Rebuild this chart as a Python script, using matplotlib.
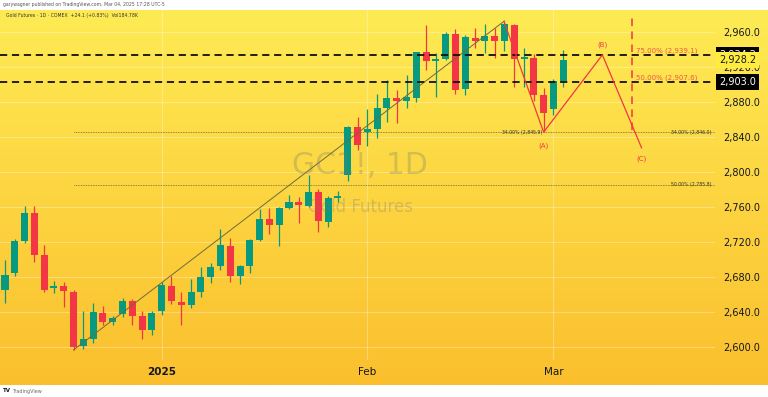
"""
GC1! daily candles with a hand-drawn ABC projection, TradingView style.
"""
import matplotlib.pyplot as plt
import matplotlib.transforms as mtransforms
import numpy as np
import pandas as pd

# 1. Data (Dec 9 2024 .. Mar 4 2025)
dates = pd.to_datetime([
    "2024-12-09", "2024-12-10", "2024-12-11", "2024-12-12", "2024-12-13",
    "2024-12-16", "2024-12-17", "2024-12-18", "2024-12-19", "2024-12-20",
    "2024-12-23", "2024-12-24", "2024-12-26", "2024-12-27", "2024-12-30",
    "2024-12-31",
    "2025-01-02", "2025-01-03", "2025-01-06", "2025-01-07", "2025-01-08",
    "2025-01-09", "2025-01-10", "2025-01-13", "2025-01-14", "2025-01-15",
    "2025-01-16", "2025-01-17", "2025-01-21", "2025-01-22", "2025-01-23",
    "2025-01-24", "2025-01-27", "2025-01-28", "2025-01-29", "2025-01-30",
    "2025-01-31",
    "2025-02-03", "2025-02-04", "2025-02-05", "2025-02-06", "2025-02-07",
    "2025-02-10", "2025-02-11", "2025-02-12", "2025-02-13", "2025-02-14",
    "2025-02-18", "2025-02-19", "2025-02-20", "2025-02-21", "2025-02-24",
    "2025-02-25", "2025-02-26", "2025-02-27", "2025-02-28",
    "2025-03-03", "2025-03-04",
])
opens = [2665, 2685, 2721, 2753, 2705, 2668, 2670, 2663, 2601, 2610,
         2639, 2629, 2638, 2653, 2636, 2620, 2641, 2670, 2652, 2648,
         2663, 2680, 2693, 2716, 2682, 2693, 2723, 2747, 2740, 2759,
         2766, 2762, 2778, 2743, 2771, 2797, 2852, 2846, 2850, 2874,
         2885, 2881, 2885, 2937, 2927, 2929, 2958, 2895, 2954, 2950,
         2956, 2950, 2968, 2929, 2931, 2888, 2872, 2904]
highs = [2700, 2724, 2761, 2762, 2717, 2676, 2675, 2666, 2641, 2651,
         2647, 2636, 2656, 2655, 2641, 2641, 2675, 2681, 2663, 2678,
         2692, 2696, 2735, 2725, 2694, 2724, 2758, 2759, 2760, 2774,
         2772, 2797, 2781, 2773, 2779, 2853, 2863, 2872, 2890, 2905,
         2894, 2911, 2938, 2968, 2936, 2960, 2964, 2957, 2965, 2970,
         2965, 2973, 2970, 2942, 2935, 2896, 2907, 2940]
lows = [2651, 2681, 2719, 2697, 2663, 2662, 2646, 2597, 2598, 2605,
        2625, 2625, 2635, 2625, 2609, 2614, 2637, 2650, 2625, 2645,
        2658, 2674, 2688, 2675, 2672, 2685, 2721, 2730, 2716, 2758,
        2742, 2760, 2732, 2738, 2766, 2790, 2825, 2830, 2839, 2858,
        2856, 2873, 2880, 2917, 2886, 2928, 2890, 2888, 2942, 2936,
        2931, 2939, 2898, 2898, 2881, 2846, 2866, 2898]
closes = [2683, 2721, 2754, 2705, 2666, 2670, 2664, 2600, 2610, 2640,
          2629, 2633, 2653, 2636, 2620, 2639, 2671, 2653, 2648, 2663,
          2680, 2692, 2717, 2682, 2693, 2723, 2747, 2740, 2759, 2766,
          2763, 2778, 2744, 2771, 2773, 2852, 2831, 2850, 2874, 2885,
          2881, 2886, 2937, 2927, 2930, 2958, 2894, 2955, 2950, 2956,
          2950, 2970, 2929, 2932, 2888, 2868, 2904, 2928.2]

# drawings: trend line, fib levels, ABC wave (bar index, price)
trend_x = [7, 51]
trend_y = [2597, 2973]
fib_levels = [2846.0, 2785.8]
fib_labels = ["34.00% (2,846.0)", "50.00% (2,785.8)"]
wave_x = [51, 55, 61, 65]
wave_y = [2971, 2845.9, 2934.2, 2828]
wave_names = ["(A)", "(B)", "(C)"]
ext_levels = [2939.1, 2907.6]
ext_labels = ["75.00% (2,939.1)", "50.00% (2,907.6)"]
hlines = [2934.2, 2903.0]
last_price = 2928.2
yticks = np.arange(2600, 2961, 40)

UP, DOWN = "#089981", "#f23645"

# 2. Figure + yellow gradient background
fig = plt.figure(figsize=(7.68, 3.97), dpi=100)
bg = fig.add_axes([0, 12 / 397, 1, 375 / 397])
grad = np.linspace(0, 1, 256).reshape(-1, 1)
top = np.array([254, 235, 84]) / 255
bot = np.array([251, 191, 45]) / 255
img = top + (bot - top) * grad[..., None]
bg.imshow(np.repeat(img, 2, axis=1), aspect="auto", extent=[0, 1, 0, 1])
bg.axis("off")

ax = fig.add_axes([0, 1 - 360 / 397, 715 / 768, 350 / 397])
ax.set_facecolor("none")
for s in ax.spines.values():
    s.set_visible(False)

x = np.arange(len(dates))
o, h, l, c = map(np.array, (opens, highs, lows, closes))
cols = np.where(c >= o, UP, DOWN)

# 3. Candles
ax.vlines(x, l, h, colors=cols, lw=0.9, zorder=3)
body = np.maximum(np.abs(c - o), 0.9)
ax.bar(x, body, bottom=np.minimum(o, c), width=0.72, color=cols, zorder=4)

# 4. Drawings
ax.plot(trend_x, trend_y, color="#6e6a3c", lw=0.7, zorder=5)
for lev, lab in zip(fib_levels, fib_labels):
    ax.plot([7, 72.6], [lev, lev], color="#6e6a3c", lw=0.6,
            ls=(0, (1, 1)), zorder=2)
    ax.text(72.1, lev, lab, fontsize=3.3, color="#333333",
            ha="right", va="center", zorder=6)
ax.text(54.9, 2845.9, "34.00% (2,845.9)", fontsize=3.3, color="#333333",
        ha="right", va="center", zorder=6)

for lev in hlines:
    ax.axhline(lev, color="#111111", lw=1.3, ls=(0, (4, 2.6)), zorder=5)

ax.plot(wave_x, wave_y, color=DOWN, lw=0.9, zorder=6)
offs = [-10, 7, -8]
for wx, wy, name, dy in zip(wave_x[1:], wave_y[1:], wave_names, offs):
    ax.annotate(name, (wx, wy), xytext=(0, dy), textcoords="offset points",
                ha="center", va="center", fontsize=5, color=DOWN)
ax.plot([64, 64], [2848, 2976], color=DOWN, lw=1.1, ls=(0, (5, 3.5)),
        zorder=6)
for lev, lab in zip(ext_levels, ext_labels):
    ax.text(64.45, lev, lab, fontsize=5, color="#f0584a",
            ha="left", va="center", zorder=6)

# 5. Axes, ticks, grid
ax.set_xlim(-0.51, 72.5)
ax.set_ylim(2585.5, 2985.5)
ax.yaxis.tick_right()
ax.set_yticks(yticks)
ax.set_yticklabels([f"{v:,.1f}" for v in yticks])
month_start = [i for i in range(1, len(dates))
               if dates[i].month != dates[i - 1].month]
ax.set_xticks(month_start)
ax.set_xticklabels([str(dates[i].year) if dates[i].month == 1
                    else dates[i].strftime("%b") for i in month_start])
for i, t in zip(month_start, ax.get_xticklabels()):
    if dates[i].month == 1:
        t.set_fontweight("bold")
ax.tick_params(axis="y", length=0, pad=5.8, labelsize=7, labelcolor="#131722")
ax.tick_params(axis="x", length=0, pad=5, labelsize=7.5, labelcolor="#131722")
ax.grid(color="white", alpha=0.3, lw=0.8)
ax.set_axisbelow(True)

# price boxes on the scale (last price box sits over the 2,934.2 marker)
tr = mtransforms.blended_transform_factory(ax.transAxes, ax.transData)
for price, fc, tc in [(2934.2, "black", "white"), (last_price, "#ffec3d", "#131722"),
                      (2903.0, "black", "white")]:
    ax.text(1.0056, price, f"{price:,.1f}", transform=tr, fontsize=7,
            color=tc, ha="left", va="center", zorder=10, clip_on=False,
            bbox=dict(boxstyle="square,pad=0.3", fc=fc, ec="none"))

# 6. Watermark, header, footer
fig.text(360 / 768, 1 - 166 / 397, "GC1!, 1D", fontsize=21.5, color="#7a7a6a",
         alpha=0.3, ha="center", va="center")
fig.text(360 / 768, 1 - 207 / 397, "Gold Futures", fontsize=12, color="#7a7a6a",
         alpha=0.3, ha="center", va="center")
fig.text(3 / 768, 1 - 4.5 / 397,
         "garywagner published on TradingView.com, Mar 04, 2025 17:28 UTC-5",
         fontsize=3.3, color="#555555", va="center")
fig.text(6 / 768, 1 - 15 / 397,
         "Gold Futures \u00b7 1D \u00b7 COMEX  +24.1 (+0.83%)  Vol184.78K",
         fontsize=3.3, color="#333333", va="center")
fig.text(3 / 768, 1 - 391 / 397, "TV", fontsize=4, fontweight="bold",
         color="#131722", va="center")
fig.text(12 / 768, 1 - 391 / 397, "TradingView", fontsize=3.5,
         color="#666666", va="center")

fig.savefig("out.png", dpi=100)
